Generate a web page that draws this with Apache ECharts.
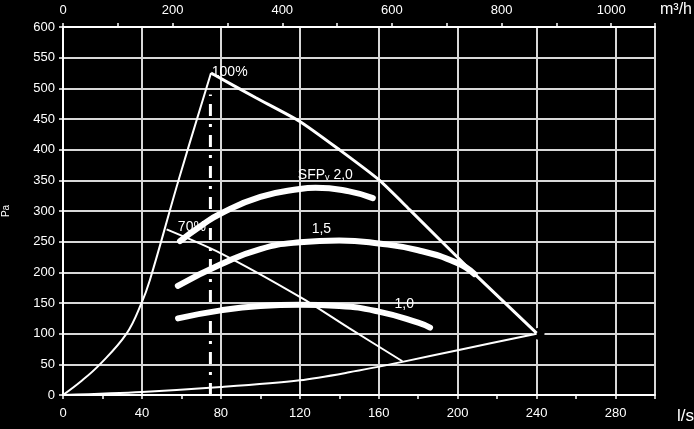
<!DOCTYPE html>
<html>
<head>
<meta charset="utf-8">
<script src="https://cdn.jsdelivr.net/npm/echarts@6/dist/echarts.min.js"></script>
<style>
  html, body { margin: 0; padding: 0; background: #000; }
  #chart { width: 694px; height: 429px; }
</style>
</head>
<body>
<div id="chart"></div>
<script>
// rising part of the 100% curve (l/s, Pa)
var riseFlow = [0, 9, 18.7, 32.2, 39.8, 44, 59, 75];
var risePa = [0, 22, 50, 100, 150, 187, 355, 525];

// fan curve 100%
var fan100Flow = [75, 97.5, 120, 140, 160, 176, 208, 240];
var fan100Pa = [525, 485, 446, 400, 351, 301, 199, 101];

// fan curve 70%
var fan70Flow = [52.5, 80, 120, 145, 172];
var fan70Pa = [270, 231, 160, 109, 55];

// system curve
var sysFlow = [0, 40, 80, 120, 145, 172, 200, 240];
var sysPa = [0, 5, 13, 24, 37, 54, 73, 100];

// SFPv lines
var sfp20Flow = [59.3, 70, 80, 100, 120, 128, 145, 157];
var sfp20Pa = [251, 276, 296, 323, 336, 338, 332, 321];
var sfp15Flow = [58.2, 80, 100, 120, 140, 160, 180, 200, 208.6];
var sfp15Pa = [178, 213, 238, 249, 252, 247, 236, 215, 197];
var sfp10Flow = [58.3, 80, 100, 120, 140, 160, 180, 186];
var sfp10Pa = [125, 138, 145, 147, 145, 136, 118, 110];

// dash-dot design flow line
var designFlow = [74.7, 74.7];
var designPa = [0, 490];

// curve labels
var labelFlow = [75.4, 119, 58.2, 126, 168];
var labelPa = [527, 359, 274, 271, 148];
var labelText = ['100%', '{b|SFP}{s|v}{b| 2,0}', '70%', '1,5', '1,0'];

function pairs(xs, ys) {
    return xs.map(function (x, i) { return [x, ys[i]]; });
}

var font = 'Liberation Sans, Arial, sans-serif';

var myChart = echarts.init(document.getElementById('chart'));
var option = {
    backgroundColor: '#000',
    animation: false,
    grid: {left: 63, right: 39, top: 27, bottom: 34, containLabel: false, outerBoundsMode: 'none'},
    xAxis: [
        {
            type: 'value', position: 'bottom', min: 0, max: 300, interval: 20,
            axisLine: {lineStyle: {color: '#fff', width: 2}},
            axisTick: {length: 4, lineStyle: {color: '#fff', width: 1.5}},
            axisLabel: {
                color: '#fff', fontSize: 13, fontFamily: font, margin: 12,
                formatter: function (v) { return v % 40 === 0 ? v : ''; }
            },
            splitLine: {show: false},
            name: 'l/s', nameLocation: 'end', nameGap: 22,
            nameTextStyle: {color: '#fff', fontSize: 17, fontFamily: font, verticalAlign: 'top', padding: [13, 0, 0, 0]}
        },
        {
            type: 'value', position: 'top', min: 0, max: 1080, interval: 100,
            axisLine: {lineStyle: {color: '#fff', width: 2}},
            axisTick: {length: 4, lineStyle: {color: '#fff', width: 1.5}},
            axisLabel: {
                color: '#fff', fontSize: 13, fontFamily: font, margin: 10,
                formatter: function (v) { return v % 200 === 0 ? v : ''; }
            },
            splitLine: {show: false},
            name: 'm³/h', nameLocation: 'end', nameGap: 5,
            nameTextStyle: {color: '#fff', fontSize: 16, fontFamily: font, verticalAlign: 'bottom', padding: [0, 0, 9, 0]}
        },
        {
            type: 'value', position: 'bottom', min: 0, max: 300, interval: 40,
            axisLine: {show: false}, axisTick: {show: false}, axisLabel: {show: false},
            splitLine: {show: true, lineStyle: {color: '#d8d8d8', width: 2}}
        }
    ],
    yAxis: {
        type: 'value', min: 0, max: 600, interval: 50,
        axisLine: {show: true, lineStyle: {color: '#fff', width: 2}},
        axisTick: {show: true, length: 4, lineStyle: {color: '#fff', width: 1.5}},
        axisLabel: {color: '#fff', fontSize: 13, fontFamily: font, margin: 8},
        splitLine: {lineStyle: {color: '#d8d8d8', width: 2}},
        name: 'Pa', nameLocation: 'middle', nameRotate: 90, nameGap: 52,
        nameTextStyle: {color: '#fff', fontSize: 10, fontFamily: font}
    },
    series: [
        {
            type: 'scatter', symbol: 'circle', symbolSize: 12, silent: true,
            itemStyle: {color: '#000', opacity: 1},
            data: [[sysFlow[sysFlow.length - 1] + 1, sysPa[sysPa.length - 1]]]
        },
        {
            type: 'line', showSymbol: false, smooth: 0.4,
            lineStyle: {color: '#fff', width: 2},
            data: pairs(riseFlow, risePa)
        },
        {
            type: 'line', showSymbol: false, smooth: 0.2,
            lineStyle: {color: '#fff', width: 3},
            data: pairs(fan100Flow, fan100Pa)
        },
        {
            type: 'line', showSymbol: false, smooth: 0.3,
            lineStyle: {color: '#fff', width: 2},
            data: pairs(fan70Flow, fan70Pa)
        },
        {
            type: 'line', showSymbol: false, smooth: 0.3,
            lineStyle: {color: '#fff', width: 2},
            data: pairs(sysFlow, sysPa)
        },
        {
            type: 'line', showSymbol: false,
            lineStyle: {color: '#fff', width: 3, type: [12, 8, 3, 8]},
            data: pairs(designFlow, designPa)
        },
        {
            type: 'line', showSymbol: false, smooth: true,
            lineStyle: {color: '#fff', width: 6, cap: 'round'},
            data: pairs(sfp20Flow, sfp20Pa)
        },
        {
            type: 'line', showSymbol: false, smooth: true,
            lineStyle: {color: '#fff', width: 6, cap: 'round'},
            data: pairs(sfp15Flow, sfp15Pa)
        },
        {
            type: 'line', showSymbol: false, smooth: true,
            lineStyle: {color: '#fff', width: 6, cap: 'round'},
            data: pairs(sfp10Flow, sfp10Pa)
        },
        {
            type: 'scatter', symbolSize: 0, silent: true,
            itemStyle: {opacity: 1},
            data: labelFlow.map(function (x, i) { return [x, labelPa[i], labelText[i]]; }),
            label: {
                show: true, position: [0, 0], align: 'left', verticalAlign: 'middle',
                color: '#fff', opacity: 1, fontSize: 14, fontFamily: font,
                formatter: function (p) { return p.value[2]; },
                rich: {
                    b: {color: '#fff', fontSize: 14, fontFamily: font},
                    s: {color: '#fff', fontSize: 9, fontFamily: font, padding: [6, 0, 0, 0]}
                }
            }
        }
    ]
};
myChart.setOption(option);
</script>
</body>
</html>
